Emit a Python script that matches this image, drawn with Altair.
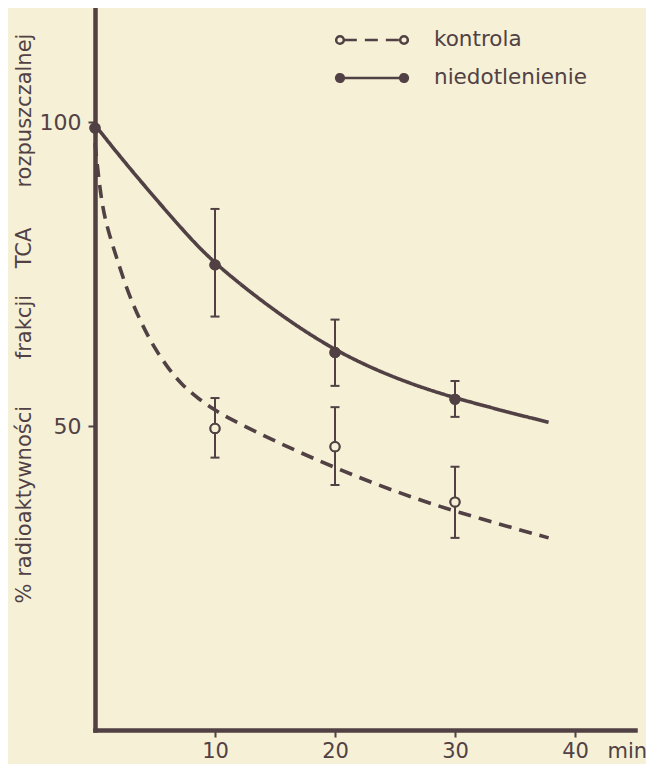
import altair as alt
import pandas as pd

BG = "#f5f0d6"
INK = "#514144"
FONT = "DejaVu Sans"

series_names = ["kontrola", "niedotlenienie"]

# measured means and error bars (x = minutes, y = % radioactivity)
t_nied = [0, 10, 20, 30]
v_nied = [99.0, 76.5, 62.1, 54.4]
lo_nied = [None, 68.0, 56.6, 51.5]
hi_nied = [None, 85.7, 67.5, 57.4]

t_kontr = [10, 20, 30]
v_kontr = [49.6, 46.6, 37.5]
lo_kontr = [44.8, 40.3, 31.6]
hi_kontr = [54.6, 53.1, 43.3]

# fitted curves as drawn in the figure
curve_t_kontr = [0, 0.55, 1.25, 1.94, 2.78, 3.75, 4.72, 5.97, 7.22, 8.6, 10, 11.1, 15.3, 20, 25, 30, 37.8]
curve_v_kontr = [96.5, 86.1, 81.1, 76.8, 71.8, 67.4, 63.6, 59.8, 56.8, 54.5, 52.6, 51.3, 47.2, 43.1, 39.2, 35.9, 31.6]
curve_t_nied = [0, 2.5, 5, 7.5, 10, 15, 20, 25, 30, 37.8]
curve_v_nied = [99.5, 93.3, 87.5, 81.8, 76.6, 68.8, 62.3, 57.8, 54.5, 50.6]

x_ticks = [10, 20, 30, 40]
y_ticks = [50, 100]

y_title = "%\u00a0radioaktywności" + "\u00a0" * 7 + "frakcji" + "\u00a0" * 4 + "TCA" + "\u00a0" * 6 + "rozpuszczalnej"

pts = pd.DataFrame({
    "series": ["niedotlenienie"] * len(t_nied) + ["kontrola"] * len(t_kontr),
    "t": t_nied + t_kontr,
    "v": v_nied + v_kontr,
    "lo": lo_nied + lo_kontr,
    "hi": hi_nied + hi_kontr,
})
err = pts.dropna(subset=["lo"])
curves = pd.DataFrame({
    "series": ["kontrola"] * len(curve_t_kontr) + ["niedotlenienie"] * len(curve_t_nied),
    "t": curve_t_kontr + curve_t_nied,
    "v": curve_v_kontr + curve_v_nied,
})

# legend glyph: line between two small circles (each circle drawn as two half arcs
# so the dash pattern, which restarts on every subpath, leaves them whole)
LEG_PATH = ("M-0.77,0L0.77,0"
            "M-0.77,0A0.105,0.105,0,0,1,-0.98,0"
            "M-0.98,0A0.105,0.105,0,0,1,-0.77,0"
            "M0.98,0A0.105,0.105,0,0,1,0.77,0"
            "M0.77,0A0.105,0.105,0,0,1,0.98,0")

legend = alt.Legend(
    title=None, orient="none", legendX=239, legendY=20, padding=0,
    symbolType=LEG_PATH, symbolSize=5350, symbolStrokeWidth=2.5,
    symbolStrokeColor=INK, symbolOpacity=1, clipHeight=24, rowPadding=14,
    labelOffset=24, labelFont=FONT, labelFontSize=21.5, labelColor=INK,
)

xs = alt.Scale(domain=[0, 45], nice=False, zero=True)
ys = alt.Scale(domain=[0, 118.75], nice=False, zero=True)

X = alt.X("t:Q", scale=xs, axis=alt.Axis(
    values=x_ticks, title="min", titleX=512, titleY=27, titleAlign="left",
    titleBaseline="alphabetic", labelBaseline="alphabetic", labelPadding=20,
    tickSize=7, labelFlush=False))
Y = alt.Y("v:Q", scale=ys, axis=alt.Axis(
    values=y_ticks, title=y_title, titleX=-65, titleY=310, titleAngle=-90,
    titleAlign="center", titleBaseline="alphabetic", labelPadding=7, tickSize=7,
    labelFlush=False, labelFontSize=22))

fill_scale = alt.Scale(domain=series_names, range=[BG, INK])
dash_scale = alt.Scale(domain=series_names, range=[[13, 8], [1, 0]])

pts_legend = alt.Chart(pts).mark_point(
    filled=True, stroke=INK, strokeWidth=2, size=85, opacity=1
).encode(x=X, y=Y, fill=alt.Fill("series:N", scale=fill_scale, legend=legend))

lines = alt.Chart(curves).mark_line(
    color=INK, strokeWidth=3.6, interpolate="basis", strokeCap="butt"
).encode(x=X, y=Y, strokeDash=alt.StrokeDash("series:N", scale=dash_scale, legend=legend))

rules = alt.Chart(err).mark_rule(color=INK, strokeWidth=2).encode(
    x=X, y=alt.Y("lo:Q", scale=ys), y2="hi:Q")
caps_lo = alt.Chart(err).mark_tick(orient="horizontal", size=9, thickness=2, color=INK, opacity=1).encode(
    x=X, y=alt.Y("lo:Q", scale=ys))
caps_hi = alt.Chart(err).mark_tick(orient="horizontal", size=9, thickness=2, color=INK, opacity=1).encode(
    x=X, y=alt.Y("hi:Q", scale=ys))

pts_top = alt.Chart(pts).mark_point(
    filled=True, stroke=INK, strokeWidth=2, size=85, opacity=1
).encode(x=X, y=Y, fill=alt.condition(alt.datum.series == "kontrola", alt.value(BG), alt.value(INK)))

chart = alt.layer(pts_legend, lines, rules, caps_lo, caps_hi, pts_top).properties(
    width=540, height=722,
    autosize=alt.AutoSizeParams(type="none"),
    padding={"left": 87, "top": 0, "right": 11, "bottom": 34},
    background=BG,
).configure_view(stroke=None).configure_axis(
    grid=False, domainColor=INK, domainWidth=4.5, domainCap="square",
    tickColor=INK, tickWidth=2, labelFont=FONT, labelFontSize=21, labelColor=INK,
    titleFont=FONT, titleFontSize=21, titleFontWeight="normal", titleColor=INK,
)

chart.save("out.html", embed_options={"renderer": "svg", "actions": False})
